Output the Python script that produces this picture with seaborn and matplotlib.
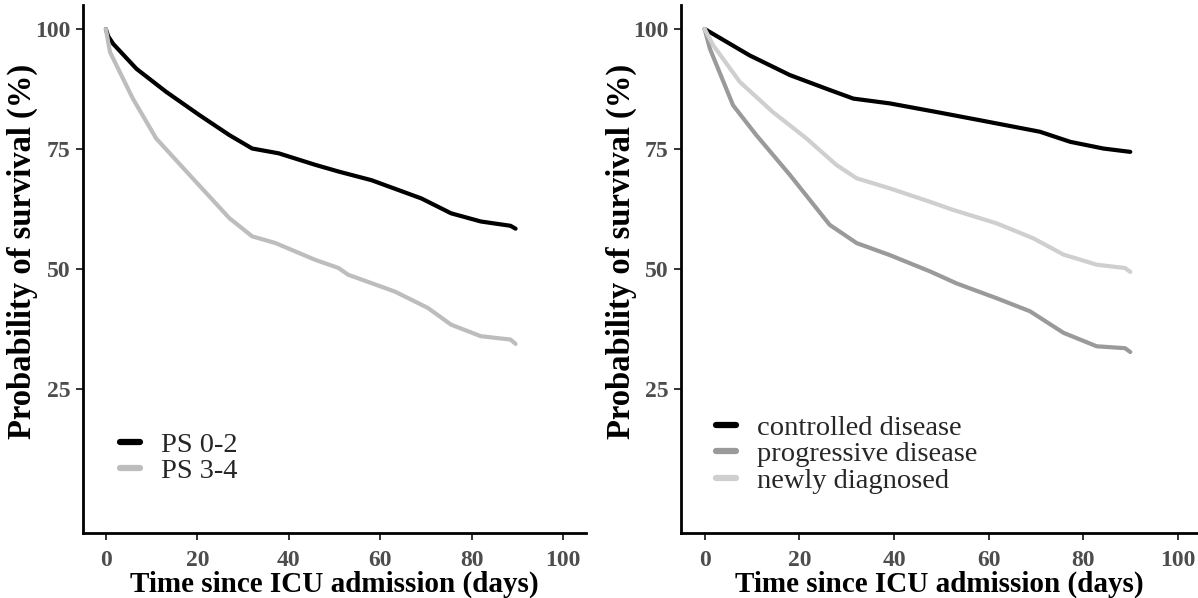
import numpy as np
import pandas as pd
import matplotlib
matplotlib.use("Agg")
import matplotlib.pyplot as plt
import seaborn as sns

# ---- data ----
ps02_t = [0, 0.5, 1.6, 6.7, 13.2, 20.4, 27.0, 32.0, 37.8, 45.8, 50.9, 58.1, 69.0, 75.5, 82.0, 88.5, 89.6]
ps02_v = [100, 98.5, 96.9, 91.7, 86.9, 82.1, 77.9, 75.1, 74.1, 71.7, 70.3, 68.5, 64.7, 61.6, 59.9, 59.0, 58.4]
ps34_t = [0, 0.9, 5.9, 11.0, 18.3, 27.0, 32.0, 37.1, 45.8, 50.9, 53.0, 63.2, 70.4, 75.5, 82.0, 88.5, 89.6]
ps34_v = [100, 95.2, 85.5, 77.2, 69.6, 60.6, 56.8, 55.4, 51.9, 50.2, 48.8, 45.3, 41.9, 38.4, 36.0, 35.3, 34.4]

ctrl_t = [0, 9.5, 18.0, 26.4, 31.4, 39.1, 49.0, 58.1, 70.8, 77.2, 84.2, 89.9]
ctrl_v = [100, 94.5, 90.4, 87.3, 85.5, 84.5, 82.7, 81.0, 78.6, 76.5, 75.1, 74.4]
prog_t = [0, 1.1, 6.0, 10.9, 18.0, 26.4, 32.1, 39.1, 47.6, 53.2, 61.7, 68.7, 75.8, 82.8, 88.8, 89.9]
prog_v = [100, 95.9, 84.1, 77.9, 69.6, 59.2, 55.4, 52.9, 49.5, 47.0, 43.9, 41.2, 36.7, 33.9, 33.5, 32.7]
new_t = [0, 1.8, 7.4, 14.4, 21.5, 27.8, 32.1, 39.1, 47.6, 52.5, 61.7, 69.4, 75.8, 82.8, 88.8, 89.9]
new_v = [100, 96.6, 89.0, 82.7, 77.2, 71.7, 68.9, 66.8, 64.0, 62.3, 59.5, 56.4, 53.0, 50.9, 50.2, 49.4]

left_groups = ["PS 0-2", "PS 3-4"]
right_groups = ["controlled disease", "progressive disease", "newly diagnosed"]
x_ticks = [0, 20, 40, 60, 80, 100]
y_ticks = [25, 50, 75, 100]

left_df = pd.concat([
    pd.DataFrame({"t": ps02_t, "v": ps02_v, "g": left_groups[0]}),
    pd.DataFrame({"t": ps34_t, "v": ps34_v, "g": left_groups[1]}),
])
right_df = pd.concat([
    pd.DataFrame({"t": ctrl_t, "v": ctrl_v, "g": right_groups[0]}),
    pd.DataFrame({"t": prog_t, "v": prog_v, "g": right_groups[1]}),
    pd.DataFrame({"t": new_t, "v": new_v, "g": right_groups[2]}),
])

sns.set_theme(style="white")
plt.rcParams["font.family"] = ["Liberation Serif", "DejaVu Serif"]

W, H = 1198, 598
fig = plt.figure(figsize=(W / 100, H / 100), dpi=100)

def px_axes(x0, x1, y0, y1):
    return fig.add_axes([x0 / W, 1 - y1 / H, (x1 - x0) / W, (y1 - y0) / H])

axL = px_axes(83, 586, 5, 533)
axR = px_axes(681, 1198, 5, 533)

sns.lineplot(data=left_df, x="t", y="v", hue="g", hue_order=left_groups,
             palette=["#000000", "#bdbdbd"], linewidth=3.0, ax=axL,
             sort=False, estimator=None)
sns.lineplot(data=right_df, x="t", y="v", hue="g", hue_order=right_groups,
             palette=["#000000", "#9a9a9a", "#cfcfcf"], linewidth=3.0, ax=axR,
             sort=False, estimator=None)

for ax, xmax, legx, legy, ylx in [(axL, 105, 0.074, 0.192, -0.089),
                                  (axR, 104.2, 0.068, 0.224, -0.085)]:
    ax.set_xlim(-5, xmax)
    ax.set_ylim(-5, 105)
    ax.set_xticks(x_ticks)
    ax.set_yticks(y_ticks)
    ax.set_xticklabels([str(t) for t in x_ticks])
    ax.set_yticklabels([str(t) for t in y_ticks])
    ax.tick_params(axis="both", which="major", length=5, width=1.4,
                   color="#333333", labelcolor="#4d4d4d", labelsize=17, pad=4,
                   bottom=True, left=True)
    ax.tick_params(axis="x", pad=7)
    for lab in ax.get_xticklabels() + ax.get_yticklabels():
        lab.set_fontweight("bold")
    for side in ["top", "right"]:
        ax.spines[side].set_visible(False)
    for side in ["left", "bottom"]:
        ax.spines[side].set_color("black")
        ax.spines[side].set_linewidth(2.0)
    ax.set_xlabel("Time since ICU admission (days)", fontsize=21, fontweight="bold",
                  color="black", labelpad=0)
    ax.set_ylabel("Probability of survival (%)", fontsize=23.5, fontweight="bold",
                  color="black", labelpad=4)
    ax.yaxis.set_label_coords(ylx, 0.534)
    ax.grid(False)
    leg = ax.legend(loc="upper left", bbox_to_anchor=(legx, legy), frameon=False,
                    fontsize=20.5, handlelength=0.7, handletextpad=0.73,
                    labelspacing=0.03, borderaxespad=0, borderpad=0)
    for line in leg.get_lines():
        line.set_linewidth(4.5)
    leg.set_title(None)

fig.savefig("out.png", dpi=100)
